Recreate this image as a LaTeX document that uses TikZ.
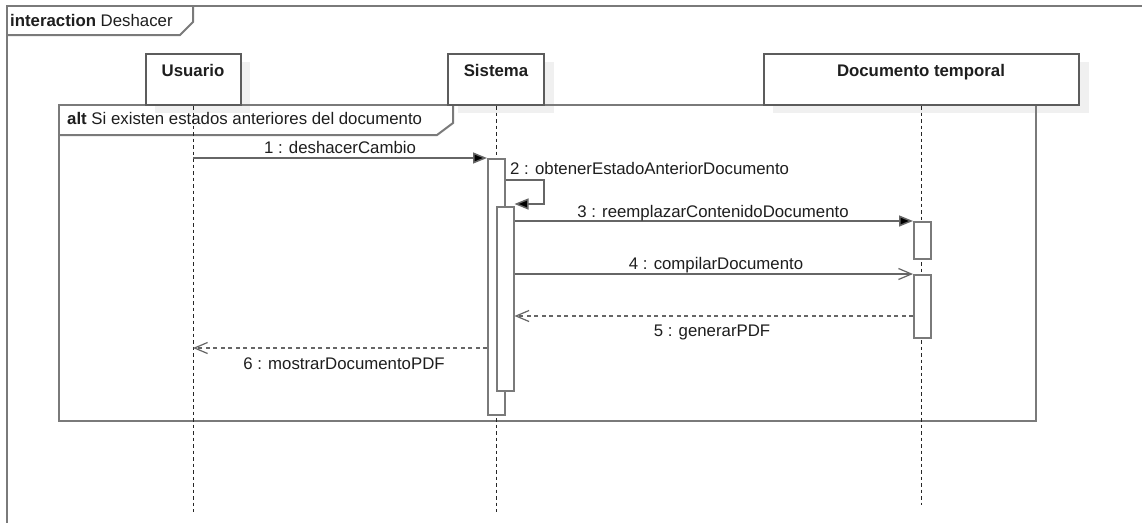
\documentclass[tikz,border=0pt]{standalone}
\usepackage{fontspec}
\setmainfont{Liberation Sans}
\usetikzlibrary{arrows.meta,calc}
\definecolor{frm}{HTML}{7A7A7A}
\definecolor{ln}{HTML}{666666}
\definecolor{shd}{HTML}{F0F0F0}
\definecolor{txt}{HTML}{1E1E1E}
\tikzset{
  frame/.style={draw=frm, line width=2pt, line join=miter},
  head/.style={draw=ln!90!black, line width=2pt, fill=white, minimum height=51pt, inner sep=0pt, anchor=north},
  headtxt/.style={anchor=base, font=\fontsize{16.8}{20}\selectfont\bfseries, text=txt, inner sep=0pt},
  lifeline/.style={draw=black!85, line width=1pt, dash pattern=on 3.5pt off 3pt},
  bar/.style={draw=frm, line width=1.5pt, fill=white, minimum width=17pt, inner sep=0pt, anchor=north west},
  msg/.style={draw=ln, line width=1.5pt},
  sync/.style={msg, -{Triangle[length=14pt,width=11pt,fill=black]}},
  async/.style={msg, -{Straight Barb[length=13pt,width=11pt,line width=1.2pt]}},
  ret/.style={msg, dash pattern=on 4pt off 3.5pt, -{Straight Barb[length=13pt,width=11pt,line width=1.2pt]}},
  lbl/.style={anchor=base, text=txt, inner sep=0pt},
}
\begin{document}
\begin{tikzpicture}[x=1pt,y=-1pt, font=\fontsize{16.8}{20}\selectfont]
\useasboundingbox (0,0) rectangle (1142,522);
\fill[white] (0,0) rectangle (1142,522);
\clip (0,0) rectangle (1142,522);

% outer interaction frame
\draw[frame] (7,530) -- (7,6) -- (1150,6);
\draw[frame] (7,35) -- (180,35) -- (193,22) -- (193,6);
\node[anchor=base west, inner sep=0pt, text=txt] (ititle) at (10,27) {\textbf{interaction} Deshacer};

% shadows of lifeline heads
\fill[shd] (155,62) rectangle (250,113);
\fill[shd] (458,62) rectangle (554,113);
\fill[shd] (773,62) rectangle (1089,113);

% alt fragment
\draw[frame] (59,105) rectangle (1036,421);
\draw[frame] (59,135) -- (437,135) -- (453,123) -- (453,105);
\node[anchor=base west, inner sep=0pt, text=txt] (alttitle) at (67,124) {\textbf{alt} Si existen estados anteriores del documento};

% lifeline heads
\node[head, minimum width=95pt] (u) at (193,53) {};
\node[head, minimum width=96pt] (s) at (496,53) {};
\node[head, minimum width=315pt] (d) at (921,53) {};
\node[headtxt] (ut) at (193,76) {Usuario};
\node[headtxt] (st) at (496,76) {Sistema};
\node[headtxt] (dt) at (921,76) {Documento temporal};

% lifelines
\coordinate (uend) at (193,512);
\coordinate (send) at (496,512);
\coordinate (dend) at (921,505);
\draw[lifeline] (u.south) -- (uend);
\draw[lifeline] (s.south) -- (send);
\draw[lifeline] (d.south) -- (dend);

% activation bars
\node[bar, minimum height=256pt] (s1) at (487,158) {};
\node[bar, minimum height=184pt] (s2) at (496,206) {};
\node[bar, minimum height=37pt] (d1) at (913,221) {};
\node[bar, minimum height=63pt] (d2) at (913,274) {};

% 1
\coordinate (m1) at (193,158);
\draw[sync] (m1) -- (s1.north west);
\node[lbl] (l1) at (340,153) {1 : deshacerCambio};
% 2 (self)
\coordinate (m2a) at (544,180);
\coordinate (m2b) at (544,204);
\draw[sync] (s1.east |- m2a) -- (m2a) -- (m2b) -- (s2.east |- m2b);
\node[lbl, anchor=base west] (l2) at (510,174) {2 : obtenerEstadoAnteriorDocumento};
% 3
\draw[sync] (s2.east |- d1.north) -- (d1.north west);
\node[lbl] (l3) at (713,217) {3 : reemplazarContenidoDocumento};
% 4
\draw[async] (s2.east |- d2.north) -- (d2.north west);
\node[lbl] (l4) at (716,269) {4 : compilarDocumento};
% 5
\coordinate (m5) at (700,316);
\draw[ret] (d2.west |- m5) -- (s2.east |- m5);
\node[lbl] (l5) at (712,336) {5 : generarPDF};
% 6
\coordinate (m6) at (300,348);
\draw[ret] (s1.west |- m6) -- (u.south |- m6);
\node[lbl] (l6) at (344,369) {6 : mostrarDocumentoPDF};
\end{tikzpicture}
\end{document}
